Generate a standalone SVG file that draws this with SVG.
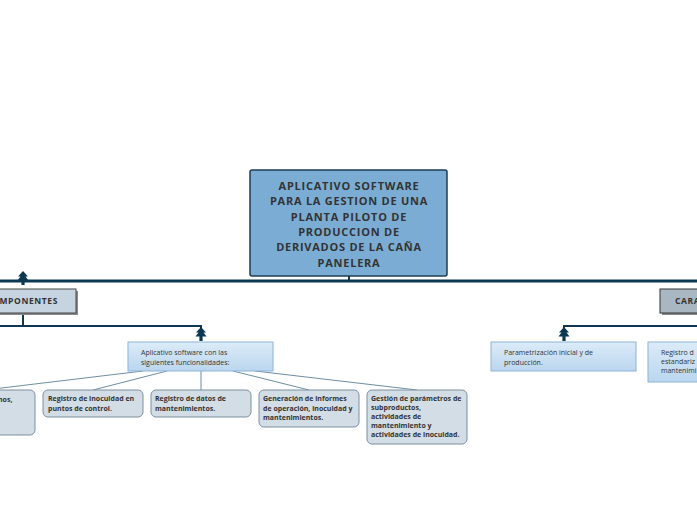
<svg xmlns="http://www.w3.org/2000/svg" width="697" height="520" viewBox="0 0 697 520">
<defs>
<linearGradient id="lb" x1="0" y1="0" x2="0" y2="1">
<stop offset="0" stop-color="#dcebf8"/>
<stop offset="1" stop-color="#bad6ee"/>
</linearGradient>
<path id="chev" d="M0,-8 L5,-2.5 L2.5,-2.5 L5.5,1.5 L1.6,1.5 L1.6,6 L-1.6,6 L-1.6,1.5 L-5.5,1.5 L-2.5,-2.5 L-5,-2.5 Z M0,-3.5 L0,-3.5"/>
</defs>
<style>
.title{font-family:"Open Sans","Liberation Sans",sans-serif;font-weight:bold;font-size:11px;fill:#333;letter-spacing:0.75px}
.hdr{font-family:"Open Sans","Liberation Sans",sans-serif;font-weight:bold;font-size:8.5px;fill:#333;letter-spacing:0.6px}
.sm{font-family:"Open Sans","Liberation Sans",sans-serif;font-size:7px;fill:#333}
.smb{font-family:"Open Sans","Liberation Sans",sans-serif;font-weight:bold;font-size:7px;fill:#333}
.leaf{fill:#d3dde6;stroke:#7b909f;stroke-width:1}
.blue{fill:url(#lb);stroke:#8db4d5;stroke-width:1}
.thick{stroke:#0e3852;stroke-width:3;fill:none}
.mid{stroke:#0e3852;stroke-width:2;fill:none}
.thin{stroke:#6e8ea3;stroke-width:1;fill:none}
.chev{fill:#0e3852}
</style>
<g id="connectors">
<line class="thick" x1="0" y1="281" x2="697" y2="281"/>
<line class="mid" x1="349" y1="276" x2="349" y2="281"/>
<line class="mid" x1="23" y1="313" x2="23" y2="326"/>
<polyline class="mid" points="0,326 201,326 201,334"/>
<polyline class="mid" points="697,326 564,326 564,334"/>
<line class="thin" x1="143" y1="371" x2="-15" y2="390"/>
<line class="thin" x1="167" y1="371" x2="93" y2="390"/>
<line class="thin" x1="201" y1="371" x2="201" y2="390"/>
<line class="thin" x1="233" y1="371" x2="309" y2="390"/>
<line class="thin" x1="255" y1="371" x2="417" y2="390"/>
<use href="#chev" class="chev" x="23" y="279"/>
<use href="#chev" class="chev" x="201" y="335"/>
<use href="#chev" class="chev" x="564" y="335"/>
</g>
<g id="root">
<rect x="250" y="170" width="197" height="106" rx="2" fill="#7badd4" stroke="#1f3d55" stroke-width="1.5"/>
<text class="title" text-anchor="middle"><tspan x="349" y="190">APLICATIVO SOFTWARE</tspan><tspan x="349" y="205.3">PARA LA GESTION DE UNA</tspan><tspan x="349" y="220.6">PLANTA PILOTO DE</tspan><tspan x="349" y="235.9">PRODUCCION DE</tspan><tspan x="349" y="251.2">DERIVADOS DE LA CAÑA</tspan><tspan x="349" y="266.5">PANELERA</tspan></text>
</g>
<g id="componentes">
<rect x="-30" y="291" width="108" height="24" fill="#8a8a8a"/>
<rect x="-32" y="289" width="108" height="24" fill="#c6d4e1" stroke="#444" stroke-width="1"/>
<text class="hdr" x="22" y="304" text-anchor="middle">COMPONENTES</text>
</g>
<g id="caracteristicas">
<rect x="662" y="291" width="60" height="24" fill="#8a8a8a"/>
<rect x="660" y="289" width="60" height="24" fill="#a9b7c3" stroke="#333" stroke-width="1"/>
<text class="hdr" x="675" y="304">CARA</text>
</g>
<g id="aplicativo">
<rect class="blue" x="128" y="342" width="145" height="29"/>
<text class="sm"><tspan x="141" y="355">Aplicativo software con las</tspan><tspan x="141" y="365">siguientes funcionalidades:</tspan></text>
</g>
<g id="leaf1">
<rect class="leaf" x="-65" y="390" width="100" height="45" rx="5"/>
<text class="smb" x="-2" y="402">nos,</text>
</g>
<g id="leaf2">
<rect class="leaf" x="43" y="390" width="100" height="27" rx="5"/>
<text class="smb"><tspan x="48" y="401">Registro de inocuidad en</tspan><tspan x="48" y="411">puntos de control.</tspan></text>
</g>
<g id="leaf3">
<rect class="leaf" x="151" y="390" width="100" height="27" rx="5"/>
<text class="smb"><tspan x="155" y="401">Registro de datos de</tspan><tspan x="155" y="411">mantenimientos.</tspan></text>
</g>
<g id="leaf4">
<rect class="leaf" x="259" y="390" width="100" height="37" rx="5"/>
<text class="smb"><tspan x="263" y="401">Generación de informes</tspan><tspan x="263" y="410.5">de operación, inocuidad y</tspan><tspan x="263" y="420">mantenimientos.</tspan></text>
</g>
<g id="leaf5">
<rect class="leaf" x="367" y="390" width="100" height="54" rx="5"/>
<text class="smb"><tspan x="371" y="401">Gestión de parámetros de</tspan><tspan x="371" y="410">subproductos,</tspan><tspan x="371" y="419">actividades de</tspan><tspan x="371" y="428">mantenimiento y</tspan><tspan x="371" y="437">actividades de inocuidad.</tspan></text>
</g>
<g id="parametrizacion">
<rect class="blue" x="491" y="342" width="145" height="29"/>
<text class="sm"><tspan x="504" y="355">Parametrización inicial y de</tspan><tspan x="504" y="365">producción.</tspan></text>
</g>
<g id="registro-estandarizado">
<rect class="blue" x="648" y="342" width="80" height="40"/>
<text class="sm"><tspan x="661" y="355">Registro d</tspan><tspan x="661" y="364">estandariz</tspan><tspan x="661" y="373">mantenimi</tspan></text>
</g>
</svg>
